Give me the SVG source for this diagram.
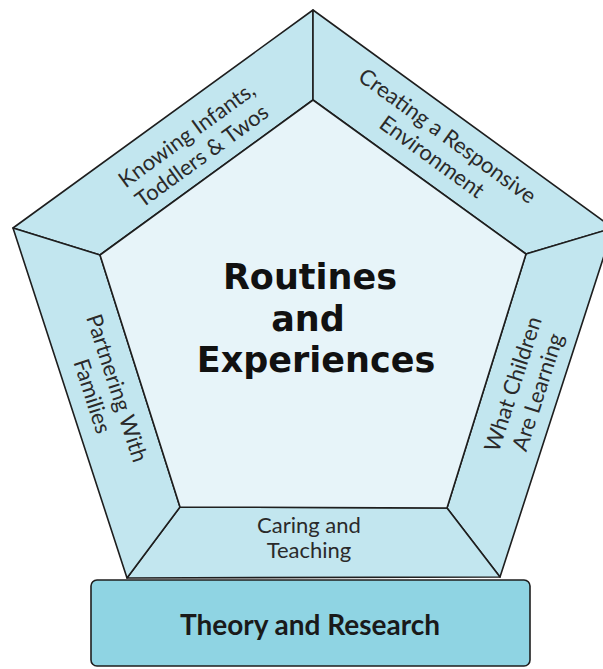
<svg xmlns="http://www.w3.org/2000/svg" width="603" height="669" viewBox="0 0 603 669">
<style>
.band{fill:#c2e6ef;stroke:#1e1e1e;stroke-width:1.6;stroke-linejoin:round}
.core{fill:#e7f4f9;stroke:#1e1e1e;stroke-width:1.6;stroke-linejoin:round}
.base{fill:#8fd4e3;stroke:#1e1e1e;stroke-width:1.6}
.lbl{font-family:Lato,"Liberation Sans",sans-serif;font-size:22px;fill:#2a2a2a;text-anchor:middle}
.title{font-family:"DejaVu Sans",Lato,sans-serif;font-size:35px;font-weight:bold;fill:#111;text-anchor:middle}
.basetxt{font-family:Lato,"Liberation Sans",sans-serif;font-size:28px;font-weight:bold;fill:#1a1a1a;text-anchor:middle}
</style>
<rect width="603" height="669" fill="#ffffff"/>
<g id="knowing">
<polygon class="band" points="13,228 313,10 313,100 100,255"/>
<g transform="translate(194,145) rotate(-36)">
<text class="lbl" x="0" y="-5">Knowing Infants,</text>
<text class="lbl" x="0" y="21">Toddlers &amp; Twos</text>
</g>
</g>
<g id="creating">
<polygon class="band" points="313,10 613,228 526,254 313,100"/>
<g transform="translate(440,146) rotate(36)">
<text class="lbl" x="0" y="-5">Creating a Responsive</text>
<text class="lbl" x="0" y="21">Environment</text>
</g>
</g>
<g id="what-children">
<polygon class="band" points="613,228 500,577 447,508 526,254"/>
<g transform="translate(525,388) rotate(-72)">
<text class="lbl" x="0" y="-5">What Children</text>
<text class="lbl" x="0" y="21">Are Learning</text>
</g>
</g>
<g id="caring">
<polygon class="band" points="447,508 500,577 127,578 180,507"/>
<text class="lbl" x="309" y="533">Caring and</text>
<text class="lbl" x="309" y="558">Teaching</text>
</g>
<g id="partnering">
<polygon class="band" points="13,228 100,255 180,507 127,578"/>
<g transform="translate(105,392) rotate(72)">
<text class="lbl" x="0" y="-5">Partnering With</text>
<text class="lbl" x="0" y="21">Families</text>
</g>
</g>
<g id="routines">
<polygon class="core" points="313,100 526,254 447,508 180,507 100,255"/>
<text class="title" x="310" y="289">Routines</text>
<text class="title" x="308" y="331">and</text>
<text class="title" x="316" y="372">Experiences</text>
</g>
<g id="theory">
<rect class="base" x="91" y="580" width="439" height="86" rx="6"/>
<text class="basetxt" x="310" y="635">Theory and Research</text>
</g>
<g id="connectors"></g>
</svg>
